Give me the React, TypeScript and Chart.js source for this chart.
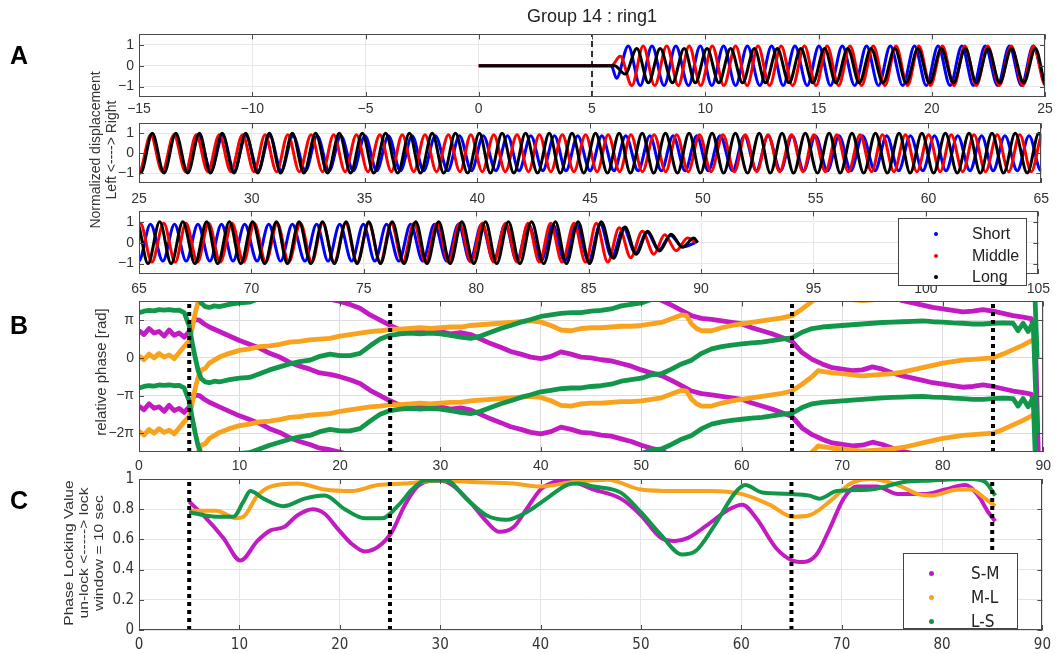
import React, { useEffect, useRef } from 'react';
import { Chart, registerables } from 'chart.js';

Chart.register(...registerables);

// ---------------- data ----------------
const titleText = 'Group 14 : ring1';

// Panel A: oscillation extrema times (seconds)
const shortPeaks = [6.60,7.65,8.70,9.78,10.81,11.86,12.93,13.96,15.02,16.05,17.12,18.17,19.24,20.28,21.33,22.36,23.43,24.48,25.55,26.59,27.64,28.71,29.74,30.80,31.83,32.90,33.95,35.02,36.06,37.11,38.14,39.21,40.26,41.34,42.37,43.42,44.45,45.52,46.58,47.65,48.68,49.73,50.76,51.84,52.89,53.96,54.99,56.04,57.08,58.15,59.20,60.27,61.30,62.36,63.39,64.46,65.51,66.58,67.62,68.67,69.70,70.77,71.82,72.90,73.93,74.98,76.01,77.08,78.14,79.21,80.24,81.29,82.32,83.40,84.45,85.52,86.55,87.60,88.64];
const shortTroughs = [6.08,7.13,8.18,9.26,10.29,11.34,12.41,13.44,14.50,15.53,16.60,17.65,18.72,19.76,20.81,21.84,22.91,23.96,25.04,26.07,27.12,28.19,29.22,30.28,31.31,32.38,33.43,34.50,35.54,36.59,37.62,38.69,39.74,40.82,41.85,42.90,43.93,45.00,46.06,47.13,48.16,49.21,50.24,51.32,52.37,53.44,54.47,55.52,56.56,57.63,58.68,59.75,60.78,61.84,62.87,63.94,64.99,66.06,67.10,68.15,69.18,70.25,71.30,72.38,73.41,74.46,75.49,76.56,77.62,78.69,79.72,80.77,81.80,82.88,83.93,85.00,86.03,87.08,88.12,89.19];
const middlePeaks = [6.25,7.26,8.30,9.29,10.31,11.34,12.33,13.35,14.38,15.38,16.39,17.42,18.42,19.43,20.47,21.46,22.47,23.51,24.50,25.52,26.55,27.54,28.56,29.59,30.59,31.60,32.63,33.63,34.64,35.68,36.67,37.68,38.72,39.71,40.73,41.76,42.75,43.77,44.80,45.80,46.81,47.84,48.84,49.85,50.89,51.88,52.89,53.93,54.92,55.94,56.97,57.96,58.98,60.01,61.01,62.02,63.05,64.05,65.06,66.10,67.09,68.10,69.14,70.13,71.15,72.18,73.17,74.19,75.22,76.22,77.23,78.26,79.26,80.27,81.31,82.30,83.31,84.35,85.34,86.36,87.39,88.38,89.40];
const middleTroughs = [6.76,7.77,8.81,9.80,10.82,11.85,12.84,13.86,14.89,15.89,16.90,17.93,18.93,19.94,20.98,21.97,22.98,24.02,25.01,26.03,27.06,28.05,29.07,30.10,31.10,32.11,33.14,34.14,35.15,36.19,37.18,38.19,39.23,40.22,41.24,42.27,43.26,44.28,45.31,46.31,47.32,48.35,49.35,50.36,51.40,52.39,53.40,54.44,55.43,56.45,57.48,58.47,59.49,60.52,61.52,62.53,63.56,64.56,65.57,66.61,67.60,68.61,69.65,70.64,71.66,72.69,73.68,74.70,75.73,76.73,77.74,78.77,79.77,80.78,81.82,82.81,83.82,84.86,85.85,86.87,87.90,88.89];
const longPeaks = [6.98,8.01,9.07,10.08,11.12,12.17,13.18,14.22,15.27,16.29,17.32,18.37,19.39,20.42,21.48,22.49,23.52,24.58,25.59,26.63,27.68,28.69,29.73,30.78,31.80,32.83,33.88,34.90,35.93,36.99,38.00,39.03,40.09,41.10,42.14,43.19,44.20,45.24,46.29,47.31,48.34,49.39,50.41,51.44,52.50,53.51,54.54,55.60,56.61,57.65,58.70,59.71,60.75,61.80,62.82,63.85,64.90,65.92,66.95,68.01,69.02,70.05,71.11,72.12,73.16,74.21,75.22,76.26,77.31,78.33,79.36,80.41,81.43,82.46,83.52,84.53,85.56,86.62,87.63,88.67,89.68];
const longTroughs = [6.46,7.49,8.55,9.56,10.60,11.65,12.66,13.70,14.75,15.77,16.80,17.85,18.87,19.90,20.96,21.97,23.00,24.06,25.07,26.11,27.16,28.17,29.21,30.26,31.28,32.31,33.36,34.38,35.41,36.47,37.48,38.51,39.57,40.58,41.62,42.67,43.68,44.72,45.77,46.79,47.82,48.87,49.89,50.92,51.98,52.99,54.02,55.08,56.09,57.13,58.18,59.19,60.23,61.28,62.30,63.33,64.38,65.40,66.43,67.49,68.50,69.53,70.59,71.60,72.64,73.69,74.70,75.74,76.79,77.81,78.84,79.89,80.91,81.94,83.00,84.01,85.04,86.10,87.11,88.15,89.16];
// amplitude read per time span: [from time, amplitude]
const shortAmp = [[0, 0.6], [6.4, 0.95], [25, 0.88], [86, 0.7], [87, 0.5], [88, 0.35], [89, 0.2]];
const middleAmp = [[0, 0.45], [6.5, 0.95], [25, 0.93], [86, 0.72], [87, 0.55], [88, 0.38], [89, 0.22]];
const longAmp = [[0, 0.4], [6.9, 0.82], [25, 1.0], [86, 0.75], [87, 0.55], [88, 0.4], [89, 0.22]];
const recordStart = 0;
const onsetTimes = [5.85, 5.85, 6.0]; // short, middle, long
const endTimes = [89.75, 89.8, 89.85];
const stimulusTimes = [5];

const aRanges = [[-15, 25], [25, 65], [65, 105]];
const aYTicks = [-1, 0, 1];

// Panel B: relative phase (units of pi), [time, phase]
const smPhase = [[0,0.72],[0.5,0.62],[1,0.78],[1.5,0.66],[2,0.7],[2.5,0.58],[3,0.74],[3.5,0.6],[4,0.66],[4.5,0.55],[5,0.7],[5.5,1.02],[6,1.0],[6.5,0.9],[7,0.82],[8,0.7],[9,0.58],[10,0.46],[11,0.36],[12,0.26],[13,0.12],[14,0.02],[15,-0.12],[16,-0.22],[17,-0.3],[18,-0.4],[19,-0.44],[20,-0.5],[21,-0.58],[22,-0.68],[23,-0.86],[24,-1.0],[25,-1.14],[26,-1.26],[27,-1.3],[28,-1.28],[29,-1.33],[30,-1.3],[31,-1.36],[32,-1.33],[33,-1.38],[34,-1.5],[35,-1.62],[36,-1.72],[37,-1.83],[38,-1.9],[39,-1.98],[40,-2.02],[41,-1.96],[42,-1.84],[43,-1.9],[44,-1.98],[45,-2.0],[46,-2.05],[47,-2.08],[48,-2.15],[49,-2.22],[50,-2.32],[51,-2.4],[52,-2.47],[53,-2.6],[54,-2.74],[55,-2.88],[56,-2.95],[57,-2.98],[58,-3.02],[59,-3.06],[60,-3.1],[61,-3.2],[62,-3.28],[63,-3.36],[64,-3.46],[65,-3.56],[66,-3.86],[67,-4.04],[68,-4.16],[69,-4.26],[70,-4.3],[71,-4.34],[72,-4.32],[73,-4.24],[74,-4.3],[75,-4.4],[76,-4.48],[77,-4.54],[78,-4.6],[79,-4.66],[80,-4.7],[81,-4.74],[82,-4.78],[83,-4.76],[84,-4.72],[85,-4.76],[86,-4.82],[87,-4.88],[88,-4.92],[88.8,-4.96],[89.2,-5.3],[89.6,-9.5]];
const mlPhase = [[0,0.05],[0.5,-0.05],[1,0.1],[1.5,0.0],[2,0.12],[2.5,0.02],[3,0.08],[3.5,-0.02],[4,0.14],[4.5,0.3],[5,0.45],[5.3,0.8],[5.6,1.2],[5.9,1.5],[6.2,1.68],[6.6,1.72],[7,1.86],[7.5,1.94],[8,2.02],[9,2.12],[10,2.2],[11,2.24],[12,2.3],[13,2.32],[14,2.36],[15,2.42],[16,2.44],[17,2.48],[18,2.5],[19,2.52],[20,2.58],[21,2.62],[22,2.66],[23,2.7],[24,2.72],[25,2.76],[26,2.76],[27,2.78],[28,2.8],[29,2.78],[30,2.8],[31,2.82],[32,2.82],[33,2.86],[34,2.88],[35,2.9],[36,2.92],[37,2.94],[38,2.96],[39,2.98],[40,2.95],[41,2.86],[42,2.74],[43,2.72],[44,2.78],[45,2.8],[46,2.8],[47,2.82],[48,2.84],[49,2.84],[50,2.86],[51,2.9],[52,2.94],[53,3.04],[54,3.14],[54.5,3.12],[55,2.9],[55.5,2.78],[56,2.72],[57,2.72],[58,2.8],[59,2.86],[60,2.9],[61,2.94],[62,2.98],[63,3.02],[64,3.06],[65,3.12],[66,3.3],[67,3.5],[67.6,3.66],[68,3.64],[69,3.6],[70,3.58],[71,3.55],[72,3.52],[73,3.54],[74,3.56],[75,3.58],[76,3.62],[77,3.68],[78,3.74],[79,3.8],[80,3.86],[81,3.9],[82,3.94],[83,3.96],[84,3.98],[85,4.0],[86,4.1],[87,4.22],[88,4.34],[88.8,4.45],[89.3,4.52]];
const lsPhase = [[0,1.2],[0.5,1.24],[1,1.26],[1.5,1.25],[2,1.28],[2.5,1.27],[3,1.28],[3.5,1.26],[4,1.27],[4.5,1.2],[5,0.85],[5.3,0.4],[5.6,0.0],[5.9,-0.35],[6.2,-0.55],[6.6,-0.64],[7,-0.66],[7.5,-0.62],[8,-0.64],[9,-0.58],[10,-0.54],[11,-0.52],[12,-0.42],[13,-0.32],[14,-0.24],[15,-0.16],[16,-0.1],[17,-0.06],[18,0.04],[19,0.1],[20,0.06],[21,0.06],[22,0.12],[23,0.32],[24,0.5],[25,0.6],[26,0.64],[27,0.66],[28,0.64],[29,0.66],[30,0.64],[31,0.6],[32,0.55],[33,0.52],[34,0.58],[35,0.68],[36,0.78],[37,0.86],[38,0.95],[39,1.02],[40,1.1],[41,1.14],[42,1.18],[43,1.2],[44,1.2],[45,1.24],[46,1.26],[47,1.3],[48,1.38],[49,1.42],[50,1.46],[51,1.55],[52,1.58],[53,1.7],[54,1.84],[55,1.94],[56,2.12],[57,2.24],[58,2.3],[59,2.34],[60,2.37],[61,2.4],[62,2.42],[63,2.46],[64,2.5],[65,2.53],[66,2.68],[67,2.78],[68,2.82],[69,2.84],[70,2.86],[71,2.88],[72,2.9],[73,2.92],[74,2.94],[75,2.95],[76,2.96],[77,2.97],[78,2.98],[79,2.96],[80,2.95],[81,2.93],[82,2.92],[83,2.9],[84,2.9],[85,2.92],[86,2.93],[87,2.92],[87.5,2.72],[88,2.92],[88.5,2.7],[89,2.95],[89.4,0.0]];
const phaseWrapCopies = [-6, -4, -2, 0, 2, 4, 6];
const bYTicks = [-2, -1, 0, 1];
const bYLabels = ['\u22122\u03c0', '\u2212\u03c0', '0', '\u03c0'];

// Panel C: phase locking value, [time, PLV]
const smPLV = [[5,0.85],[6.4,0.76],[8.4,0.61],[10.1,0.46],[11.8,0.59],[13.1,0.66],[14.4,0.68],[15.8,0.76],[17.3,0.8],[18.5,0.77],[19.8,0.67],[21.2,0.57],[22.5,0.52],[23.8,0.55],[25.2,0.65],[26.5,0.83],[27.9,0.96],[29.9,0.99],[31.2,0.96],[33.2,0.83],[34.6,0.72],[35.9,0.65],[37.3,0.68],[38.6,0.8],[40,0.93],[41.3,0.98],[42.6,0.99],[45.3,0.93],[48,0.87],[50,0.76],[52,0.61],[53.4,0.59],[54.7,0.61],[56.7,0.7],[58.8,0.8],[60.1,0.83],[61.5,0.74],[63.5,0.54],[65.1,0.46],[66.2,0.45],[67.5,0.5],[68.8,0.67],[70.2,0.87],[71.5,0.95],[73.5,0.95],[75.6,0.9],[78.2,0.9],[80.3,0.93],[82.3,0.96],[83.6,0.89],[84.6,0.78],[85.3,0.72]];
const mlPLV = [[5,0.79],[7.7,0.79],[9.7,0.74],[10.4,0.75],[11.8,0.89],[13.1,0.95],[15.8,0.97],[18.5,0.93],[21.2,0.92],[23.8,0.96],[26.5,0.97],[29.9,0.99],[33.2,0.98],[37.3,0.97],[40,0.95],[43.3,0.98],[46.7,0.995],[50,0.93],[53.4,0.92],[56.7,0.92],[60.1,0.9],[62.8,0.83],[65.1,0.75],[66.8,0.76],[68.8,0.85],[70.9,0.97],[72.9,1.0],[75.6,0.96],[77.6,0.9],[78.9,0.89],[81.6,0.93],[82.9,0.93],[84.3,0.87],[85.3,0.82]];
const lsPLV = [[5,0.78],[7.7,0.75],[9.4,0.75],[10.4,0.85],[11.1,0.92],[12.4,0.87],[14.4,0.82],[16.5,0.87],[18.5,0.89],[20.5,0.8],[22.5,0.74],[24.2,0.74],[25.9,0.83],[27.2,0.93],[28.5,0.99],[30.6,0.99],[32.6,0.87],[34.6,0.76],[36.6,0.73],[38.6,0.78],[40.6,0.87],[42.6,0.96],[43.7,0.97],[45.3,0.95],[48,0.91],[50,0.78],[52,0.63],[54.1,0.5],[55.4,0.52],[57.4,0.7],[59.4,0.91],[60.4,0.96],[62.1,0.91],[65.1,0.9],[66.8,0.89],[67.8,0.87],[69.5,0.92],[72.9,0.93],[76.2,0.98],[78.9,0.99],[82.9,1.0],[84.3,0.98],[85.3,0.89]];
const windowMarkers = [5, 25, 65, 85];
const cYTicks = [0, 0.2, 0.4, 0.6, 0.8, 1];
const bcXTicks = [0, 10, 20, 30, 40, 50, 60, 70, 80, 90];

const legendA = ['Short', 'Middle', 'Long'];
const legendC = ['S-M', 'M-L', 'L-S'];

// ---------------- styles ----------------
const W = 1057;
const H = 654;
const PLOT_LEFT = 139;
const PLOT_RIGHT = 1045;
const PAD_TOP = 12;
const X_AXIS_H = 30;
const SANS = "'Liberation Sans', Arial, sans-serif";
const NARROW = "'Liberation Sans Narrow', 'DejaVu Sans Condensed', 'Liberation Sans', sans-serif";
const TICK_COLOR = '#333333';
const COL_SHORT = '#0000ff';
const COL_MIDDLE = '#ff0000';
const COL_LONG = '#000000';
const COL_SM = '#c31bc3';
const COL_ML = '#f8a21e';
const COL_LS = '#12964a';

const minus = (v: number) => String(v).replace('-', '\u2212');

function ampAt(steps: number[][], t: number) {
  let a = steps[0][1];
  for (const [s, v] of steps) if (t >= s) a = v;
  return a;
}

function oscPoints(idx: number, peaks: number[], troughs: number[], amp: number[][]) {
  const ext = [
    ...peaks.map((t) => ({ x: t, y: ampAt(amp, t) })),
    ...troughs.map((t) => ({ x: t, y: -ampAt(amp, t) })),
  ].sort((a, b) => a.x - b.x);
  return [{ x: recordStart, y: 0 }, { x: onsetTimes[idx], y: 0 }, ...ext, { x: endTimes[idx], y: 0 }];
}

const shortPts = oscPoints(0, shortPeaks, shortTroughs, shortAmp);
const middlePts = oscPoints(1, middlePeaks, middleTroughs, middleAmp);
const longPts = oscPoints(2, longPeaks, longTroughs, longAmp);

const oscLine = (data: any[], color: string) => ({
  data,
  borderColor: color,
  borderWidth: 3,
  cubicInterpolationMode: 'monotone',
  pointRadius: 0,
  borderJoinStyle: 'round',
  clip: 0,
});

const vLine = (t: number, y0: number, y1: number, dash: number[], width: number) => ({
  data: [{ x: t, y: y0 }, { x: t, y: y1 }],
  borderColor: '#000',
  borderWidth: width,
  borderDash: dash,
  pointRadius: 0,
  borderCapStyle: 'butt',
  clip: 0,
});

const phaseLines = (pairs: number[][], color: string) =>
  phaseWrapCopies.map((k) => ({
    data: pairs.map(([t, v]) => ({ x: t, y: v + k })),
    borderColor: color,
    borderWidth: 4.8,
    pointRadius: 0,
    tension: 0,
    borderJoinStyle: 'round',
    clip: 0,
  }));

const plvLine = (pairs: number[][], color: string) => ({
  data: pairs.map(([t, v]) => ({ x: t, y: v })),
  borderColor: color,
  borderWidth: 4,
  pointRadius: 0,
  cubicInterpolationMode: 'monotone',
  clip: 0,
});

const xTicksRange = (lo: number, hi: number) => {
  const out: number[] = [];
  for (let v = lo; v <= hi; v += 5) out.push(v);
  return out;
};

type Panel = {
  top: number; bottom: number; xMin: number; xMax: number; xTicks: number[];
  yMin: number; yMax: number; yTicks: number[]; yLabel: (v: number) => string;
  datasets: any[]; xPad: number; font: any; grid: string;
};

const tickFont = { family: SANS, size: 14 };
const cFont = { family: NARROW, size: 15 };

const panels: Panel[] = [
  ...aRanges.map(([lo, hi], i) => ({
    top: [33, 122, 210][i],
    bottom: [97, 183, 274][i],
    xMin: lo, xMax: hi, xTicks: xTicksRange(lo, hi),
    yMin: -1.5, yMax: 1.5, yTicks: aYTicks, yLabel: (v: number) => minus(v),
    datasets: [
      ...(i === 0 ? stimulusTimes.map((t) => vLine(t, -1.5, 1.5, [6, 4], 1.6)) : []),
      oscLine(longPts, COL_LONG),
      oscLine(middlePts, COL_MIDDLE),
      oscLine(shortPts, COL_SHORT),
    ],
    xPad: [4, 8, 7][i], font: tickFont, grid: '#e8e8e8',
  })),
  {
    top: 300, bottom: 452, xMin: 0, xMax: 90, xTicks: bcXTicks,
    yMin: -2.5, yMax: 1.5, yTicks: bYTicks,
    yLabel: (v: number) => bYLabels[bYTicks.indexOf(v)],
    datasets: [
      ...windowMarkers.map((t) => vLine(t, -2.5, 1.5, [4, 4], 4)),
      ...phaseLines(lsPhase, COL_LS),
      ...phaseLines(mlPhase, COL_ML),
      ...phaseLines(smPhase, COL_SM),
    ],
    xPad: 6, font: tickFont, grid: '#dedede',
  },
  {
    top: 477, bottom: 630, xMin: 0, xMax: 90, xTicks: bcXTicks,
    yMin: 0, yMax: 1, yTicks: cYTicks, yLabel: (v: number) => String(v),
    datasets: [
      ...windowMarkers.map((t) => vLine(t, 0, 1, [4, 4], 4)),
      plvLine(lsPLV, COL_LS),
      plvLine(mlPLV, COL_ML),
      plvLine(smPLV, COL_SM),
    ],
    xPad: 6, font: cFont, grid: '#e4e4e4',
  },
];

const framePlugin = {
  id: 'frame',
  afterDatasetsDraw(chart: any) {
    const { ctx, chartArea: a } = chart;
    const xs = chart.scales.x;
    const ys = chart.scales.y;
    const tl = 5;
    ctx.save();
    ctx.strokeStyle = '#4a4a4a';
    ctx.lineWidth = 1;
    ctx.beginPath();
    xs.ticks.forEach((t: any) => {
      const p = Math.round(xs.getPixelForValue(t.value)) + 0.5;
      ctx.moveTo(p, a.top); ctx.lineTo(p, a.top + tl);
      ctx.moveTo(p, a.bottom); ctx.lineTo(p, a.bottom - tl);
    });
    ys.ticks.forEach((t: any) => {
      const p = Math.round(ys.getPixelForValue(t.value)) + 0.5;
      ctx.moveTo(a.left, p); ctx.lineTo(a.left + tl, p);
      ctx.moveTo(a.right, p); ctx.lineTo(a.right - tl, p);
    });
    ctx.stroke();
    ctx.strokeRect(Math.round(a.left) + 0.5, Math.round(a.top) + 0.5, Math.round(a.width) - 1, Math.round(a.height) - 1);
    ctx.restore();
  },
};

function PanelCanvas({ p }: { p: Panel }) {
  const ref = useRef<HTMLCanvasElement | null>(null);
  const height = PAD_TOP + (p.bottom - p.top) + X_AXIS_H;
  useEffect(() => {
    if (!ref.current) return;
    const chart = new Chart(ref.current, {
      type: 'line',
      data: { datasets: p.datasets },
      plugins: [framePlugin],
      options: {
        responsive: false,
        maintainAspectRatio: false,
        animation: false,
        events: [],
        layout: { padding: { top: PAD_TOP, left: 0, right: W - PLOT_RIGHT, bottom: 0 } },
        plugins: { legend: { display: false }, tooltip: { enabled: false } },
        scales: {
          x: {
            type: 'linear', min: p.xMin, max: p.xMax,
            afterFit: (s: any) => { s.height = X_AXIS_H; },
            afterBuildTicks: (s: any) => { s.ticks = p.xTicks.map((v) => ({ value: v })); },
            grid: { color: p.grid, drawTicks: false },
            border: { display: false },
            ticks: { padding: p.xPad, font: p.font, color: TICK_COLOR, maxRotation: 0, autoSkip: false, callback: (v: any) => minus(v) },
          },
          y: {
            type: 'linear', min: p.yMin, max: p.yMax,
            afterFit: (s: any) => { s.width = PLOT_LEFT; },
            afterBuildTicks: (s: any) => { s.ticks = p.yTicks.map((v) => ({ value: v })); },
            grid: { color: p.grid, drawTicks: false },
            border: { display: false },
            ticks: { padding: 5, font: p.font, color: TICK_COLOR, autoSkip: false, callback: (v: any) => p.yLabel(v) },
          },
        },
      } as any,
    });
    return () => chart.destroy();
  }, []);
  return (
    <canvas
      ref={ref}
      width={W}
      height={height}
      style={{ position: 'absolute', left: 0, top: p.top - PAD_TOP, width: W, height }}
    />
  );
}

function VText({ x, y, children, size, family = SANS, stretch = 1 }: any) {
  return (
    <div
      style={{
        position: 'absolute', left: x, top: y, whiteSpace: 'nowrap', fontSize: size, fontFamily: family,
        color: '#333', lineHeight: 1, transform: `translate(-50%, -50%) rotate(-90deg) scaleX(${stretch})`,
      }}
    >
      {children}
    </div>
  );
}

const letterStyle: any = { position: 'absolute', fontFamily: SANS, fontWeight: 'bold', fontSize: 25, color: '#000', lineHeight: 1 };

export default function App() {
  const aColors = [COL_SHORT, COL_MIDDLE, COL_LONG];
  const cColors = [COL_SM, COL_ML, COL_LS];
  return (
    <div style={{ position: 'fixed', left: 0, top: 0, width: W, height: H, background: '#fff', overflow: 'hidden' }}>
      {panels.map((p, i) => <PanelCanvas key={i} p={p} />)}
      <div style={{ position: 'absolute', left: 392, width: 400, top: 6, textAlign: 'center', fontFamily: SANS, fontSize: 18, color: '#222', lineHeight: 1.2 }}>{titleText}</div>
      <div style={{ ...letterStyle, left: 10, top: 43 }}>A</div>
      <div style={{ ...letterStyle, left: 10, top: 313 }}>B</div>
      <div style={{ ...letterStyle, left: 10, top: 488 }}>C</div>
      <VText x={95} y={150} size={14}>Normalized displacement</VText>
      <VText x={111} y={150} size={14}>{'Left <----> Right'}</VText>
      <VText x={100} y={372} size={15}>relative phase [rad]</VText>
      <VText x={68} y={553} size={13} stretch={1.2}>Phase Locking Value</VText>
      <VText x={83} y={553} size={13} stretch={1.2}>{'un-lock <-----> lock'}</VText>
      <VText x={98} y={553} size={13} stretch={1.2}>window = 10 sec</VText>
      <div style={{ position: 'absolute', left: 898, top: 218, width: 129, height: 68, border: '1px solid #444', background: '#fff', boxSizing: 'border-box' }}>
        {legendA.map((lab, i) => (
          <React.Fragment key={lab}>
            <div style={{ position: 'absolute', left: 35, top: 13 + i * 21.5, width: 4, height: 4, borderRadius: 2, background: aColors[i] }} />
            <div style={{ position: 'absolute', left: 73, top: 5 + i * 21.5, fontFamily: SANS, fontSize: 16, color: '#222', lineHeight: '20px' }}>{lab}</div>
          </React.Fragment>
        ))}
      </div>
      <div style={{ position: 'absolute', left: 903, top: 553, width: 115, height: 76, border: '1px solid #444', background: '#fff', boxSizing: 'border-box' }}>
        {legendC.map((lab, i) => (
          <React.Fragment key={lab}>
            <div style={{ position: 'absolute', left: 25, top: 17 + i * 24, width: 5, height: 5, borderRadius: 3, background: cColors[i] }} />
            <div style={{ position: 'absolute', left: 67, top: 9 + i * 24, fontFamily: NARROW, fontSize: 17, color: '#222', lineHeight: '20px' }}>{lab}</div>
          </React.Fragment>
        ))}
      </div>
    </div>
  );
}
